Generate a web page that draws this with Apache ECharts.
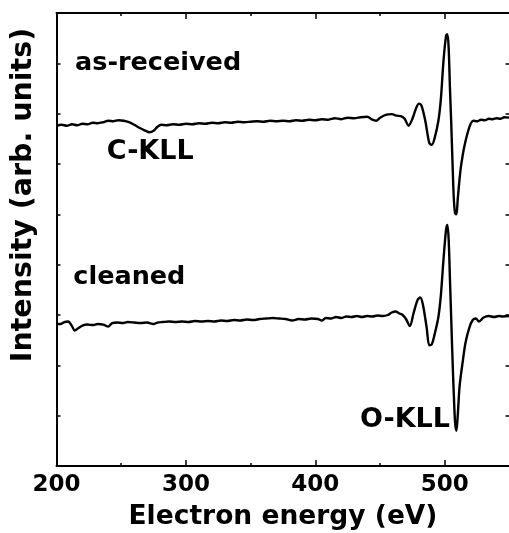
<!DOCTYPE html>
<html>
<head>
<meta charset="utf-8">
<script src="https://cdn.jsdelivr.net/npm/echarts@6/dist/echarts.min.js"></script>
<style>
html,body{margin:0;padding:0;background:#fff;}
#chart{width:509px;height:533px;}
</style>
</head>
<body>
<div id="chart"></div>
<script>
// ---- data ----
const xTickValues = [200, 300, 400, 500];
const energyReceived = [200,204,208,212,216,220,224,228,232,236,240,244,248,252,256,260,264,268,272,275,278,281,285,290,295,300,305,310,315,320,325,330,335,340,345,350,355,360,365,370,375,380,385,390,395,400,405,410,415,420,425,430,435,440,444,447,450,455,459,463,466,469,472,475,478,480,482,485,488,490,492,495,497,499,501,502,503,504,505,506,507,508,509,510,512,514,516,518,520,522,525,528,531,534,537,540,543,546,550];
const intensityReceived = [6.76,6.78,6.76,6.79,6.77,6.80,6.79,6.82,6.81,6.83,6.86,6.85,6.87,6.86,6.83,6.78,6.72,6.67,6.63,6.66,6.74,6.78,6.77,6.79,6.78,6.80,6.79,6.81,6.80,6.82,6.81,6.83,6.82,6.84,6.83,6.84,6.85,6.84,6.86,6.85,6.86,6.85,6.87,6.86,6.88,6.87,6.89,6.88,6.91,6.89,6.92,6.91,6.93,6.94,6.88,6.86,6.92,6.98,6.99,6.96,6.95,6.90,6.76,6.90,7.12,7.20,7.16,6.85,6.42,6.38,6.50,6.85,7.30,8.05,8.55,8.58,8.30,7.50,6.80,6.00,5.30,5.02,5.00,5.30,5.85,6.20,6.45,6.65,6.80,6.86,6.85,6.88,6.87,6.90,6.89,6.91,6.90,6.93,6.92];
const energyCleaned = [200,203,206,209,212,214,217,220,224,228,232,236,240,243,247,251,255,260,265,270,275,278,282,287,292,297,302,307,312,317,322,327,332,337,342,347,352,357,362,367,372,377,382,387,392,397,402,405,408,412,416,420,424,428,432,436,440,444,448,452,456,459,462,465,467,470,473,476,479,481,483,486,488,490,492,495,497,499,501,502,503,504,505,506,507,508,509,510,511.5,514,516,519,521.6,524,526.4,530,534,538,542,545,550];
const intensityCleaned = [2.82,2.82,2.86,2.87,2.78,2.69,2.74,2.79,2.81,2.80,2.82,2.81,2.77,2.84,2.85,2.84,2.86,2.85,2.84,2.85,2.82,2.85,2.86,2.87,2.86,2.87,2.86,2.88,2.87,2.88,2.87,2.89,2.88,2.90,2.89,2.91,2.90,2.92,2.93,2.94,2.93,2.92,2.89,2.92,2.91,2.93,2.92,2.89,2.94,2.93,2.96,2.94,2.97,2.96,2.98,2.96,2.98,2.97,2.99,2.98,3.00,3.05,3.07,3.03,3.01,2.92,2.78,3.05,3.30,3.35,3.22,2.75,2.40,2.42,2.60,2.95,3.40,4.10,4.70,4.79,4.50,3.70,2.90,2.10,1.40,0.85,0.70,1.00,1.60,2.10,2.45,2.75,2.90,2.93,2.87,2.95,2.98,2.96,2.98,2.97,2.98];
const annotations = [
  {text: 'as-received', x: 75, y: 63.5, size: 25.5},
  {text: 'C-KLL', x: 106.7, y: 151.7, size: 27},
  {text: 'cleaned', x: 73.3, y: 277, size: 25.5},
  {text: 'O-KLL', x: 360, y: 420, size: 27}
];
const xTitle = 'Electron energy (eV)';
const yTitle = 'Intensity (arb. units)';

// ---- chart ----
const FONT = '"DejaVu Sans"';
const chart = echarts.init(document.getElementById('chart'), null, {renderer: 'canvas'});
const lineCol = '#000';
function xAx(pos, interval, tickLen, showLine, showLabel, name) {
  return {
    type: 'value', position: pos, min: 200, max: 550, interval: interval,
    axisLine: {show: showLine, lineStyle: {color: lineCol, width: 2}},
    axisTick: {show: true, inside: true, length: tickLen, lineStyle: {color: lineCol, width: 1.5}},
    axisLabel: {show: showLabel, showMaxLabel: false, margin: 8, color: '#000', fontFamily: FONT, fontWeight: 'bold', fontSize: 23},
    splitLine: {show: false},
    name: name || '', nameLocation: 'middle', nameGap: 38,
    nameTextStyle: {color: '#000', fontFamily: FONT, fontWeight: 'bold', fontSize: 26.5}
  };
}
function yAx(pos, name) {
  return {
    type: 'value', position: pos, min: 0, max: 9, interval: 1,
    axisLine: {show: true, lineStyle: {color: lineCol, width: 2}},
    axisTick: {show: true, inside: true, length: 4, lineStyle: {color: lineCol, width: 1.5}},
    axisLabel: {show: false},
    splitLine: {show: false},
    name: name || '', nameLocation: 'middle', nameGap: 18,
    nameTextStyle: {color: '#000', fontFamily: FONT, fontWeight: 'bold', fontSize: 28.5, padding: [0, 0, 0, 89]}
  };
}
const option = {
  backgroundColor: '#fff',
  animation: false,
  grid: {left: 56.5, top: 13, width: 453, height: 453, containLabel: false, outerBoundsMode: 'none'},
  xAxis: [
    xAx('bottom', 100, 6, true, true, xTitle),
    xAx('bottom', 50, 3, false, false),
    xAx('top', 100, 6, true, false),
    xAx('top', 50, 3, false, false)
  ],
  yAxis: [yAx('left', yTitle), yAx('right')],
  series: [
    {type: 'line', xAxisIndex: 0, yAxisIndex: 0, showSymbol: false, smooth: 0.3,
     lineStyle: {color: lineCol, width: 2.4}, data: energyReceived.map((e, i) => [e, intensityReceived[i]])},
    {type: 'line', xAxisIndex: 0, yAxisIndex: 0, showSymbol: false, smooth: 0.3,
     lineStyle: {color: lineCol, width: 2.4}, data: energyCleaned.map((e, i) => [e, intensityCleaned[i]])}
  ],
  graphic: annotations.map(a => ({
    type: 'text', x: a.x, y: a.y, z: 10,
    style: {text: a.text, fill: '#000', font: 'bold ' + a.size + 'px ' + FONT,
            textAlign: 'left', verticalAlign: 'middle', textVerticalAlign: 'middle'}
  }))
};
chart.setOption(option);
</script>
</body>
</html>
